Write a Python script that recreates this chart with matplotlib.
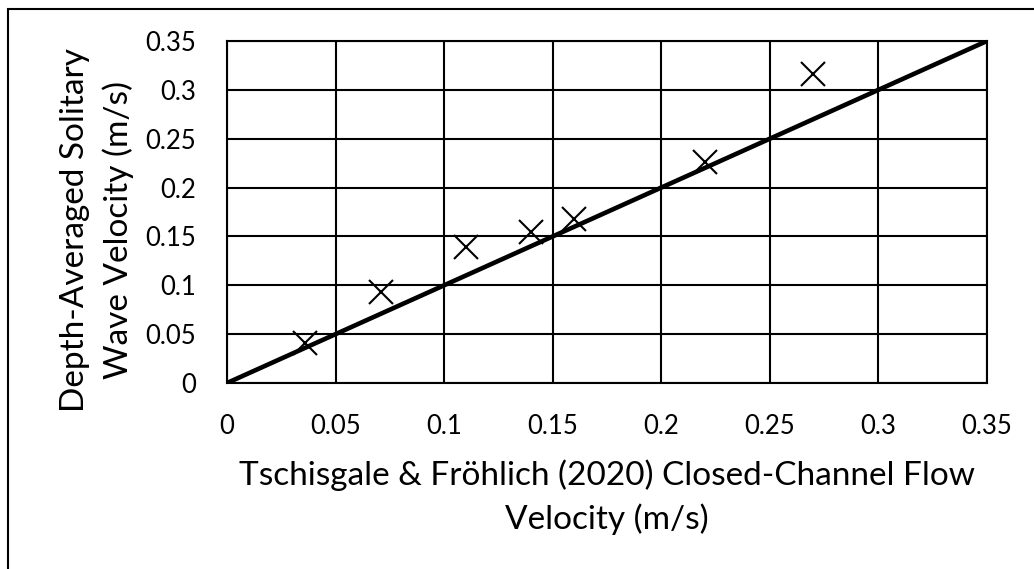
import numpy as np
import matplotlib
matplotlib.use("Agg")
import matplotlib.pyplot as plt
from matplotlib.patches import Rectangle

# closed-channel flow velocity vs. depth-averaged solitary wave velocity (m/s)
flow_velocity = [0.036, 0.071, 0.110, 0.140, 0.160, 0.220, 0.270]
wave_velocity = [0.041, 0.093, 0.139, 0.155, 0.168, 0.226, 0.316]
line_x = [0.0, 0.35]
line_y = [0.0, 0.35]
ticks = [0, 0.05, 0.1, 0.15, 0.2, 0.25, 0.3, 0.35]
tick_labels = ["0", "0.05", "0.1", "0.15", "0.2", "0.25", "0.3", "0.35"]

plt.rcParams["font.family"] = ["Lato", "DejaVu Sans"]

fig = plt.figure(figsize=(10.34, 5.69), dpi=100)
ax = fig.add_axes([227/1034, 1 - 383/569, 760/1034, 342/569])

ax.plot(line_x, line_y, color="black", lw=3.3, zorder=3, solid_capstyle="butt")
ax.plot(flow_velocity, wave_velocity, ls="none", marker="x", ms=17,
        mew=1.5, color="black", zorder=4)

ax.set_xlim(0, 0.35)
ax.set_ylim(0, 0.35)
ax.set_xticks(ticks)
ax.set_xticklabels(tick_labels)
ax.set_yticks(ticks)
ax.set_yticklabels(tick_labels)
ax.tick_params(length=0, labelsize=18.5, colors="black")
ax.tick_params(axis="x", pad=22)
ax.tick_params(axis="y", pad=22)
ax.grid(True, color="black", lw=1.5)
ax.set_axisbelow(True)
for s in ax.spines.values():
    s.set_linewidth(1.5)

ax.set_xlabel("Tschisgale & Fröhlich (2020) Closed-Channel Flow\nVelocity (m/s)",
              fontsize=24, labelpad=15, linespacing=1.5)
ax.set_ylabel("Depth-Averaged Solitary\nWave Velocity (m/s)",
              fontsize=24, labelpad=8, linespacing=1.5)
ax.yaxis.label.set_y(0.447)

# chart border, only top and left edges fall inside the image
fig.patches.append(Rectangle((7.5/1034, -0.5), 2, 1.5 - 8.5/569,
                             transform=fig.transFigure, fill=False,
                             lw=1.5, ec="black"))

fig.savefig("out.png", dpi=100)
